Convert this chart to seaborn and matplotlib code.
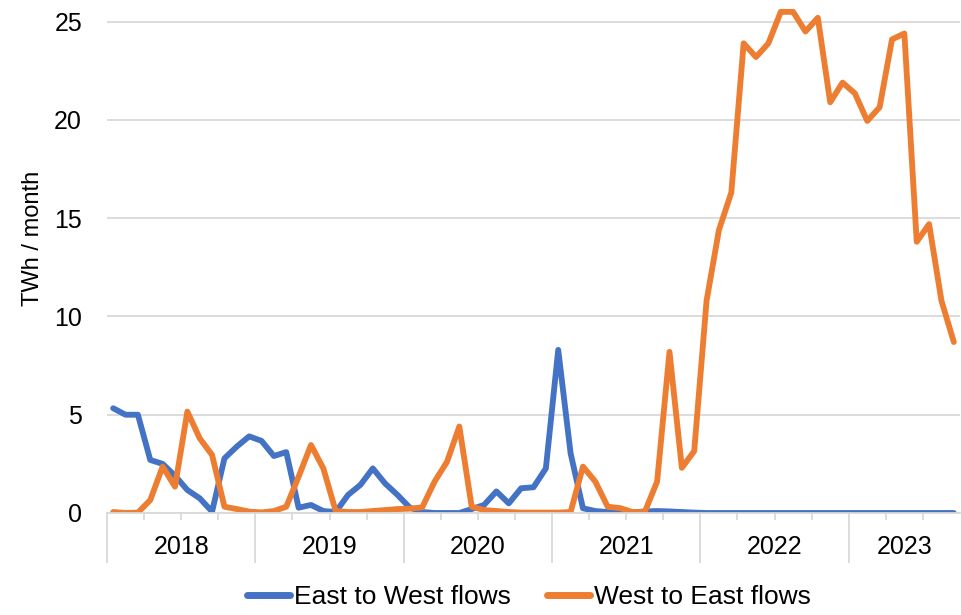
import numpy as np
import pandas as pd
import matplotlib
matplotlib.use('Agg')
import matplotlib.pyplot as plt
import seaborn as sns

# monthly flows, Jan 2018 - Sep 2023 (TWh / month)
east_to_west = [5.33, 5.0, 5.0, 2.7, 2.5, 1.9, 1.17, 0.75, 0.07, 2.78, 3.38, 3.9,
                3.67, 2.9, 3.1, 0.27, 0.41, 0.1, 0.05, 0.92, 1.43, 2.27, 1.5, 0.92,
                0.27, 0.05, 0.0, 0.0, 0.0, 0.2, 0.41, 1.1, 0.49, 1.26, 1.31, 2.27,
                8.3, 3.04, 0.24, 0.1, 0.05, 0.03, 0.03, 0.08, 0.1, 0.08, 0.05, 0.02,
                0.0, 0.0, 0.0, 0.0, 0.0, 0.0, 0.0, 0.0, 0.0, 0.0, 0.0, 0.0,
                0.0, 0.0, 0.0, 0.0, 0.0, 0.0, 0.0, 0.0, 0.0]
west_to_east = [0.05, 0.0, 0.02, 0.66, 2.36, 1.34, 5.16, 3.8, 2.95, 0.32, 0.2, 0.07,
                0.03, 0.1, 0.32, 1.85, 3.46, 2.27, 0.1, 0.05, 0.05, 0.1, 0.15, 0.2,
                0.22, 0.29, 1.6, 2.6, 4.4, 0.32, 0.15, 0.1, 0.05, 0.02, 0.02, 0.02,
                0.02, 0.05, 2.36, 1.6, 0.32, 0.25, 0.05, 0.05, 1.6, 8.2, 2.3, 3.15,
                10.8, 14.4, 16.3, 23.9, 23.2, 23.9, 25.5, 25.5, 24.5, 25.2, 20.9, 21.9,
                21.35, 19.95, 20.65, 24.1, 24.4, 13.8, 14.7, 10.8, 8.7]
years = ['2018', '2019', '2020', '2021', '2022', '2023']
series_names = ['East to West flows', 'West to East flows']
colors = ['#4472C4', '#ED7D31']

n = len(east_to_west)
df = pd.DataFrame({'pos': np.arange(n) + 0.5,
                   series_names[0]: east_to_west,
                   series_names[1]: west_to_east})
df = df.melt(id_vars='pos', var_name='series', value_name='twh')

sns.set_theme(style='white')
plt.rcParams['font.family'] = ['Liberation Sans', 'DejaVu Sans']
plt.rcParams['text.color'] = 'black'

fig = plt.figure(figsize=(9.61, 6.15), dpi=100)
ax = fig.add_axes([107 / 961, 102 / 615, 853 / 961, 509 / 615])

sns.lineplot(data=df, x='pos', y='twh', hue='series', hue_order=series_names,
             palette=colors, linewidth=4.2, ax=ax)
for line in ax.lines:
    line.set_solid_capstyle('round')
    line.set_solid_joinstyle('round')

ax.set_xlim(0, n)
ax.set_ylim(0, 25.9)
ax.set_yticks(range(0, 26, 5))
ax.grid(axis='y', color='#d9d9d9', linewidth=1.3)
ax.set_axisbelow(True)
for side in ['top', 'right', 'left']:
    ax.spines[side].set_visible(False)
ax.spines['bottom'].set_color('#d9d9d9')
ax.spines['bottom'].set_linewidth(1.3)

# year separators and quarter ticks
ax.set_xticks(range(0, 61, 12))
ax.set_xticklabels([])
ax.set_xticks([q for q in range(3, n, 3) if q % 12], minor=True)
ax.tick_params(axis='x', which='major', length=36, width=1.3, color='#d9d9d9', bottom=True)
ax.tick_params(axis='x', which='minor', length=5, width=1.3, color='#d9d9d9', bottom=True)
ax.tick_params(axis='y', length=0, pad=18, labelsize=18, labelcolor='black')

for i, yr in enumerate(years):
    start = 12 * i
    end = min(start + 12, n)
    ax.text((start + end) / 2, -34 / 509, yr, ha='center', va='center',
            fontsize=18, color='black', transform=ax.get_xaxis_transform())

ax.set_xlabel('')
ax.set_ylabel('')
fig.text(33 / 961, 1 - 238 / 615, 'TWh / month', rotation=90, ha='center',
         va='center', fontsize=17, color='black')

sns.move_legend(ax, loc='center', bbox_to_anchor=(529 / 961, 1 - 597 / 615),
                bbox_transform=fig.transFigure, ncol=2, frameon=False, title=None,
                fontsize=19, handlelength=1.6, handletextpad=0.15, columnspacing=1.4)
leg = ax.get_legend()
for h in leg.legend_handles:
    h.set_linewidth(5)
for t in leg.get_texts():
    t.set_color('black')

fig.savefig('out.png', dpi=100)
